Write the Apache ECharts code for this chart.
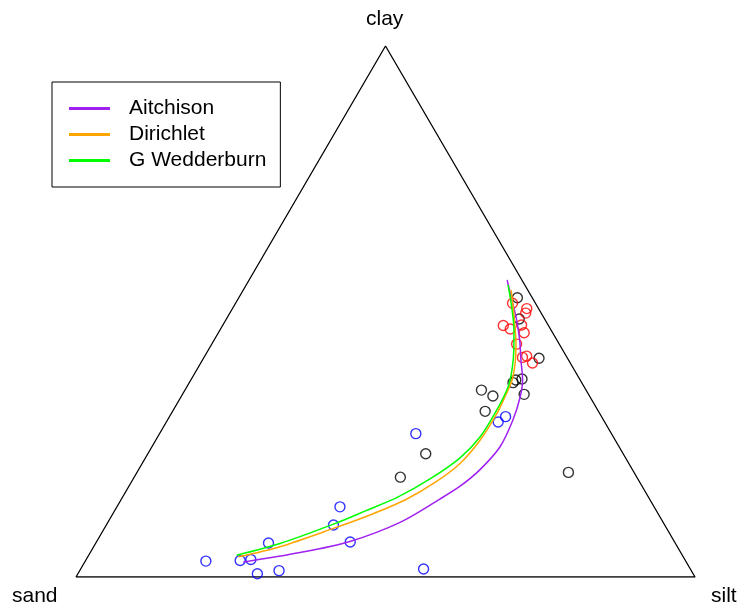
<!DOCTYPE html>
<html>
<head>
<meta charset="utf-8">
<script src="https://cdn.jsdelivr.net/npm/echarts@6/dist/echarts.min.js"></script>
<style>
  html, body { margin: 0; padding: 0; background: #ffffff; }
  #chart { width: 740px; height: 608px; }
</style>
</head>
<body>
<div id="chart"></div>
<script>
// Ternary sediment compositions (percent sand / silt / clay)

const vertexNames = ['sand', 'silt', 'clay'];
const cornerSand = [100, 0, 0, 100];
const cornerSilt = [0, 100, 0, 0];
const cornerClay = [0, 0, 100, 0];

// Samples, grouped by colour
const blueSand = [31.6, 50.7, 53.5, 65.7, 52.4, 77.6, 72.0, 70.1, 70.4, 66.6, 43.1, 17.2, 15.5];
const blueSilt = [41.4, 36.0, 36.7, 27.9, 41.0, 19.5, 25.0, 26.6, 29.0, 32.2, 55.4, 53.6, 54.3];
const blueClay = [27.0, 13.2, 9.8, 6.4, 6.6, 3.0, 3.1, 3.3, 0.6, 1.2, 1.5, 29.2, 30.2];

const blackSand = [2.4, 4.1, 4.6, 11.1, 10.4, 9.3, 10.4, 16.9, 15.6, 18.3, 31.9, 38.2, 10.6];
const blackSilt = [45.0, 47.3, 54.2, 52.3, 52.5, 53.4, 55.2, 47.9, 50.3, 50.5, 44.9, 43.0, 69.7];
const blackClay = [52.6, 48.6, 41.2, 36.6, 37.1, 37.3, 34.4, 35.2, 34.1, 31.2, 23.2, 18.8, 19.7];

const redSand = [3.7, 1.9, 2.5, 7.3, 6.5, 4.3, 4.6, 6.9, 7.2, 6.4, 6.1];
const redSilt = [44.7, 47.6, 47.8, 45.4, 46.8, 48.3, 49.4, 49.3, 51.5, 52.0, 53.6];
const redClay = [51.5, 50.6, 49.7, 47.4, 46.7, 47.5, 46.0, 43.9, 41.4, 41.6, 40.3];

// Fitted mean curves
const aitchisonSand = [71.6, 61.5, 52.4, 42.5, 33.9, 29.4, 24.7, 19.3, 14.6, 11.3, 9.3, 7.7, 6.0, 4.5, 3.5, 2.4];
const aitchisonSilt = [25.6, 33.9, 40.9, 47.2, 51.5, 53.5, 55.2, 56.3, 55.8, 54.8, 53.6, 51.5, 49.3, 46.8, 44.4, 41.7];
const aitchisonClay = [2.8, 4.6, 6.7, 10.3, 14.7, 17.1, 20.2, 24.5, 29.6, 33.9, 37.1, 40.9, 44.6, 48.8, 52.2, 55.9];

const dirichletSand = [71.9, 64.2, 53.7, 46.7, 39.6, 33.1, 27.3, 21.8, 16.5, 13.1, 11.0, 8.9, 6.9, 5.4, 3.8, 2.7];
const dirichletSilt = [24.4, 30.1, 37.1, 41.7, 45.9, 49.1, 51.4, 52.4, 52.6, 52.3, 51.9, 50.8, 49.1, 47.2, 45.0, 43.3];
const dirichletClay = [3.8, 5.7, 9.2, 11.7, 14.5, 17.8, 21.4, 25.8, 30.9, 34.7, 37.1, 40.3, 44.1, 47.5, 51.2, 54.1];

const wedderburnSand = [72.0, 63.9, 53.3, 46.9, 40.4, 33.6, 26.8, 21.5, 16.3, 12.3, 10.1, 7.9, 6.0, 4.4, 2.7];
const wedderburnSilt = [23.9, 29.8, 36.7, 40.6, 44.5, 48.0, 50.8, 52.1, 52.3, 51.9, 51.0, 49.4, 47.5, 45.3, 42.3];
const wedderburnClay = [4.1, 6.3, 10.0, 12.5, 15.1, 18.5, 22.4, 26.4, 31.5, 35.8, 39.0, 42.8, 46.5, 50.3, 55.0];

const curveNames = ['Aitchison', 'Dirichlet', 'G Wedderburn'];
const curveColors = ['#A020F0', '#FFA500', '#00FF00'];

// Barycentric -> cartesian: sand at (0,0), silt at (1,0), clay at (0.5,1)
function toXY(sand, silt, clay) {
  const t = sand + silt + clay;
  return [(silt + clay / 2) / t, clay / t];
}
function points(sand, silt, clay) {
  return sand.map((s, i) => toXY(s, silt[i], clay[i]));
}

const FONT = 'Liberation Sans, Arial, Helvetica, sans-serif';

function scatterSeries(name, color, data) {
  return {
    name: name,
    type: 'scatter',
    data: data,
    symbol: 'circle',
    symbolSize: 10,
    itemStyle: { color: 'rgba(0,0,0,0)', borderColor: color, borderWidth: 1.4 },
    silent: true,
    z: 3
  };
}
function curveSeries(name, color, data) {
  return {
    name: name,
    type: 'line',
    data: data,
    showSymbol: false,
    symbol: 'none',
    smooth: 0.3,
    lineStyle: { color: color, width: 1.5 },
    itemStyle: { color: color },
    silent: true,
    z: 4
  };
}

const chart = echarts.init(document.getElementById('chart'), null, { renderer: 'canvas' });

chart.setOption({
  animation: false,
  backgroundColor: '#ffffff',
  grid: { left: 76, right: 45, top: 46, bottom: 31 },
  xAxis: { type: 'value', min: 0, max: 1, show: false },
  yAxis: { type: 'value', min: 0, max: 1, show: false },
  legend: {
    data: curveNames,
    orient: 'vertical',
    left: 52,
    top: 82,
    icon: 'rect',
    itemWidth: 41,
    itemHeight: 3,
    itemGap: 5,
    padding: [16, 14, 16, 17],
    borderColor: '#000000',
    borderWidth: 1,
    borderRadius: 0,
    selectedMode: false,
    textStyle: { fontFamily: FONT, fontSize: 21, color: '#000000', lineHeight: 21, padding: [0, 0, 0, 14] }
  },
  graphic: [
    { type: 'text', left: 366, top: 9, style: { text: vertexNames[2], font: '21px ' + FONT, fill: '#000' } },
    { type: 'text', left: 12, top: 586, style: { text: vertexNames[0], font: '21px ' + FONT, fill: '#000' } },
    { type: 'text', left: 711, top: 586, style: { text: vertexNames[1], font: '21px ' + FONT, fill: '#000' } }
  ],
  series: [
    {
      name: 'frame',
      type: 'line',
      data: points(cornerSand, cornerSilt, cornerClay),
      symbol: 'none',
      lineStyle: { color: '#000000', width: 1.3 },
      silent: true,
      z: 1
    },
    scatterSeries('black', '#000000', points(blackSand, blackSilt, blackClay)),
    scatterSeries('red', '#FF0000', points(redSand, redSilt, redClay)),
    scatterSeries('blue', '#0000FF', points(blueSand, blueSilt, blueClay)),
    curveSeries(curveNames[0], curveColors[0], points(aitchisonSand, aitchisonSilt, aitchisonClay)),
    curveSeries(curveNames[1], curveColors[1], points(dirichletSand, dirichletSilt, dirichletClay)),
    curveSeries(curveNames[2], curveColors[2], points(wedderburnSand, wedderburnSilt, wedderburnClay))
  ]
});
</script>
</body>
</html>
